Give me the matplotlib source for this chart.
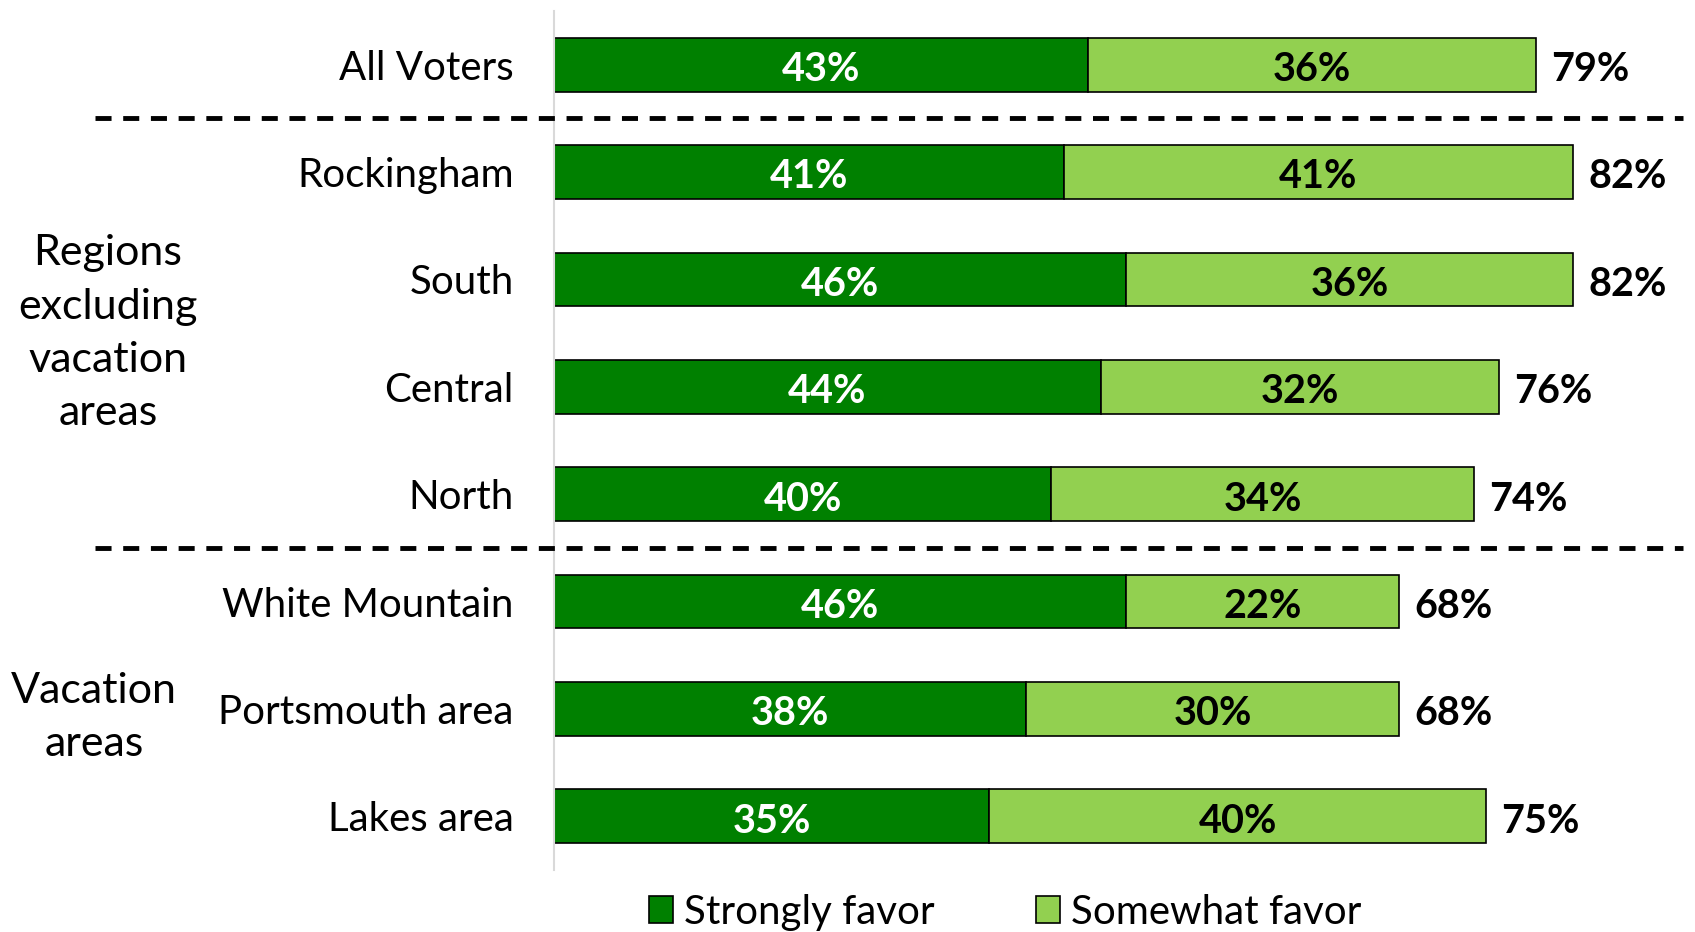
import matplotlib
matplotlib.use("Agg")
import matplotlib.pyplot as plt
from matplotlib.patches import Patch
from matplotlib.lines import Line2D
from matplotlib.transforms import blended_transform_factory

plt.rcParams['font.family'] = ['Lato', 'DejaVu Sans']

categories = ["All Voters", "Rockingham", "South", "Central", "North",
              "White Mountain", "Portsmouth area", "Lakes area"]
strongly = [43, 41, 46, 44, 40, 46, 38, 35]
somewhat = [36, 41, 36, 32, 34, 22, 30, 40]
totals = [79, 82, 82, 76, 74, 68, 68, 75]
series_names = ["Strongly favor", "Somewhat favor"]
group_labels = ["Regions\nexcluding\nvacation\nareas", "Vacation\nareas"]

dark_green = "#008000"
light_green = "#92D050"
fs = 29
fs_val = 28.5
fs_group = 31

fig = plt.figure(figsize=(16.95, 9.32), dpi=100)
ax = fig.add_axes([554 / 1695, 62 / 932, (1683 - 554) / 1695, (921 - 62) / 932])

y = list(range(len(categories)))
ax.barh(y, strongly, height=0.5, color=dark_green, edgecolor="black", linewidth=1.2)
ax.barh(y, somewhat, left=strongly, height=0.5, color=light_green,
        edgecolor="black", linewidth=1.2)

dy = -3.5  # nudge value labels onto the bar's visual centre
for i, (s, w, t) in enumerate(zip(strongly, somewhat, totals)):
    ax.annotate(f"{s}%", xy=(s / 2, i), xytext=(0, dy), textcoords="offset points",
                ha="center", va="center", color="white",
                fontsize=fs_val, fontweight="bold")
    ax.annotate(f"{w}%", xy=(s + w / 2, i), xytext=(0, dy), textcoords="offset points",
                ha="center", va="center", color="black",
                fontsize=fs_val, fontweight="bold")
    ax.annotate(f"{t}%", xy=(t, i), xytext=(11, dy), textcoords="offset points",
                ha="left", va="center", color="black", fontsize=fs_val,
                fontweight="bold")

ax.set_xlim(0, (1683 - 554) / 12.43)
ax.set_ylim(7.5, -0.5)
ax.set_yticks(y)
ax.set_yticklabels(categories, fontsize=fs)
ax.tick_params(axis="y", length=0, pad=29)
ax.set_xticks([])
for side in ["top", "right", "bottom"]:
    ax.spines[side].set_visible(False)
ax.spines["left"].set_color("#d9d9d9")
ax.spines["left"].set_linewidth(1.5)

# group separators spanning the label column and the plot
trans = blended_transform_factory(fig.transFigure, ax.transData)
for yy in (0.5, 4.5):
    fig.add_artist(Line2D([95 / 1695, 1683 / 1695], [yy, yy], transform=trans,
                          color="black", linewidth=3.5, linestyle=(0, (3.3, 2.4))))

fig.text(108 / 1695, 2.5, group_labels[0], transform=trans, ha="center",
         va="center", multialignment="center", fontsize=fs_group, linespacing=1.49)
fig.text(94 / 1695, 6.08, group_labels[1], transform=trans, ha="center",
         va="center", multialignment="center", fontsize=fs_group, linespacing=1.49)

handles = [Patch(facecolor=dark_green, edgecolor="black", linewidth=1.2),
           Patch(facecolor=light_green, edgecolor="black", linewidth=1.2)]
fig.legend(handles, series_names, loc="center", bbox_to_anchor=(0.593, 0.021),
           ncol=2, frameon=False, fontsize=fs, handlelength=0.6, handleheight=0.65,
           handletextpad=0.27, columnspacing=2.5)

fig.savefig("out.png", dpi=100)
